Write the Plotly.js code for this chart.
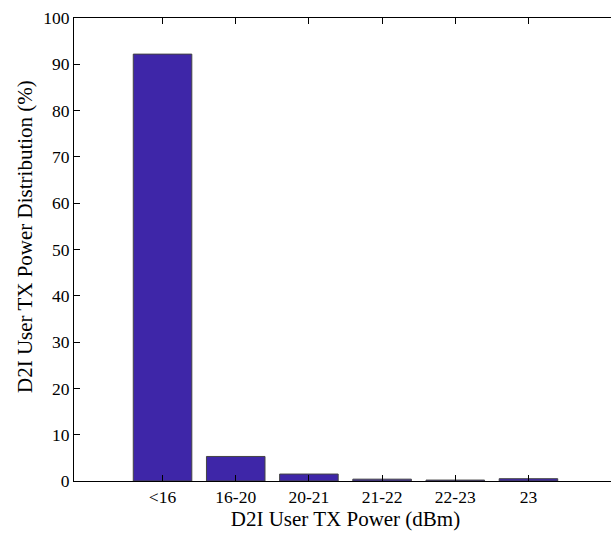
<!DOCTYPE html>
<html><head><meta charset="utf-8">
<script src="https://cdn.plot.ly/plotly-3.0.1.min.js"></script>
<style>html,body{margin:0;padding:0;overflow:hidden;background:#fff;}</style>
</head><body>
<div id="chart" style="width:625px;height:536px;"></div>
<script>
const categories = ["<16", "16-20", "20-21", "21-22", "22-23", "23"];
const distribution = [92.2, 5.3, 1.5, 0.4, 0.2, 0.5];
const yTicks = [0, 10, 20, 30, 40, 50, 60, 70, 80, 90, 100];
const xTitle = "D2I User TX Power (dBm)";
const yTitle = "D2I User TX Power Distribution (%)";

const fam = "'Liberation Serif', 'Times New Roman', serif";

Plotly.newPlot("chart", [{
  type: "bar",
  x: categories.map((c, i) => i),
  y: distribution,
  width: 0.8,
  marker: {color: "rgb(62,38,168)", line: {color: "#444", width: 1}},
  hoverinfo: "x+y"
}], {
  width: 625, height: 536,
  margin: {l: 74, r: 8, t: 18, b: 55},
  paper_bgcolor: "#fff", plot_bgcolor: "#fff",
  font: {family: fam, color: "#000", size: 17},
  showlegend: false,
  xaxis: {
    range: [-1.21, 6.21],
    tickvals: categories.map((c, i) => i),
    ticktext: categories,
    ticks: "inside", ticklen: 6, tickcolor: "#000", tickwidth: 1,
    showline: true, linecolor: "#000", linewidth: 1, mirror: "ticks",
    showgrid: false, zeroline: false,
    tickfont: {family: fam, size: 17.5, color: "#000"},
    title: {text: xTitle, font: {family: fam, size: 21, color: "#000"}, standoff: 2}
  },
  yaxis: {
    range: [0, 100],
    tickvals: yTicks,
    ticks: "inside", ticklen: 6, tickcolor: "#000", tickwidth: 1,
    showline: true, linecolor: "#000", linewidth: 1, mirror: "ticks",
    showgrid: false, zeroline: false,
    tickfont: {family: fam, size: 17.5, color: "#000"}
  },
  annotations: [{
    text: yTitle, textangle: -90, showarrow: false,
    xref: "paper", yref: "paper", x: -0.0912, y: 0.528,
    xanchor: "center", yanchor: "middle",
    font: {family: fam, size: 21, color: "#000"}
  }]
}, {displayModeBar: false, staticPlot: true});
</script>
</body></html>
